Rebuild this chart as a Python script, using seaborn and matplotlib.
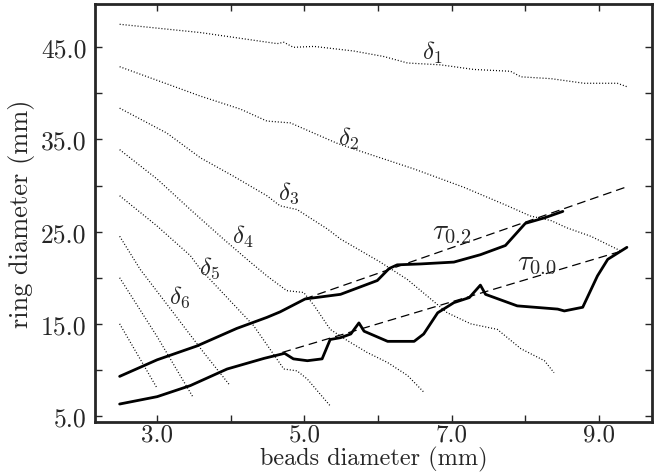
import numpy as np
import pandas as pd
import matplotlib
matplotlib.use("Agg")
import matplotlib.pyplot as plt
import seaborn as sns
from matplotlib.ticker import FixedLocator

# delta curves (dotted): bead diameter vs ring diameter
d1_x = [2.49, 3.59, 4.63, 4.72, 4.85, 5.13, 5.67, 6.08, 6.40, 6.85, 7.30, 7.80, 7.94, 8.35, 8.80, 9.25, 9.39]
d1_y = [47.5, 46.6, 45.4, 45.55, 45.0, 45.1, 44.6, 44.0, 43.3, 43.1, 42.6, 42.4, 41.8, 41.6, 41.1, 41.1, 40.7]
d2_x = [2.49, 3.04, 3.59, 4.13, 4.49, 4.81, 5.44, 5.81, 6.49, 7.17, 7.76, 8.07, 8.35, 8.57, 8.89, 9.30]
d2_y = [42.9, 41.3, 39.7, 38.3, 37.0, 36.8, 34.6, 33.6, 31.8, 29.8, 27.8, 26.7, 26.2, 25.4, 24.5, 22.9]
d3_x = [2.49, 3.13, 3.59, 4.04, 4.49, 4.67, 4.90, 5.31, 5.49, 6.03, 6.40, 6.67, 6.94, 7.26, 7.62, 7.94, 8.26, 8.39]
d3_y = [38.4, 35.7, 33.0, 31.0, 28.9, 27.8, 27.4, 25.3, 24.2, 21.7, 19.8, 18.0, 16.2, 15.0, 14.4, 12.3, 11.0, 9.7]
d4_x = [2.49, 3.00, 3.45, 3.90, 4.22, 4.49, 4.76, 4.99, 5.13, 5.35, 5.58, 5.85, 6.13, 6.40, 6.62]
d4_y = [33.9, 30.7, 27.4, 24.2, 22.0, 20.2, 18.6, 18.4, 17.0, 14.4, 13.2, 11.9, 10.8, 9.4, 7.6]
d5_x = [2.49, 3.00, 3.45, 3.59, 4.31, 4.72, 4.90, 5.04, 5.35]
d5_y = [28.9, 25.6, 22.4, 20.9, 14.8, 10.1, 9.9, 9.0, 6.1]
d6_x = [2.49, 2.77, 3.22, 3.63, 3.99]
d6_y = [24.5, 20.9, 16.2, 11.9, 8.3]
d7_x = [2.49, 3.00, 3.49]
d7_y = [20.0, 13.6, 7.0]
d8_x = [2.49, 3.00]
d8_y = [15.0, 8.0]

# tau curves (solid) and their linear fits (dashed)
t02_x = [2.49, 3.00, 3.54, 4.08, 4.49, 4.67, 5.01, 5.49, 5.99, 6.15, 6.26, 6.58, 7.03, 7.39, 7.73, 8.00, 8.26, 8.51]
t02_y = [9.3, 11.1, 12.6, 14.5, 15.7, 16.3, 17.7, 18.2, 19.7, 21.0, 21.4, 21.5, 21.7, 22.5, 23.5, 25.9, 26.5, 27.2]
t00_x = [2.49, 3.00, 3.45, 3.95, 4.45, 4.73, 4.85, 5.04, 5.24, 5.35, 5.49, 5.63, 5.74, 5.81, 6.13, 6.49, 6.62,
         6.81, 7.03, 7.24, 7.39, 7.46, 7.89, 8.44, 8.53, 8.78, 8.98, 9.12, 9.38]
t00_y = [6.3, 7.1, 8.3, 10.1, 11.25, 11.8, 11.2, 11.0, 11.2, 13.3, 13.5, 13.9, 15.1, 14.2, 13.1, 13.1, 13.9,
         16.2, 17.3, 17.85, 19.2, 18.2, 16.95, 16.6, 16.4, 16.8, 20.2, 22.0, 23.3]
fit02_x = [5.00, 9.39]
fit02_y = [17.7, 29.9]
fit00_x = [4.70, 9.35]
fit00_y = [11.9, 23.0]

delta_labels = [r'$\delta_1$', r'$\delta_2$', r'$\delta_3$', r'$\delta_4$', r'$\delta_5$', r'$\delta_6$']
delta_lx = [6.74, 5.60, 4.78, 4.16, 3.71, 3.30]
delta_ly = [44.5, 35.2, 29.3, 24.5, 21.1, 18.0]
tau_labels = [r'$\tau_{0.2}$', r'$\tau_{0.0}$']
tau_lx = [7.00, 8.16]
tau_ly = [25.0, 21.6]

xticks_major = [3, 5, 7, 9]
xticks_minor = [4, 6, 8]
yticks_major = [5, 15, 25, 35, 45]
yticks_minor = [10, 20, 30, 40]

sns.set_style("ticks")
plt.rcParams['font.family'] = ['cmr10', 'DejaVu Serif']
plt.rcParams['mathtext.fontset'] = 'cm'
plt.rcParams['axes.formatter.use_mathtext'] = True

fig = plt.figure(figsize=(6.67, 4.77), dpi=100)
ax = fig.add_axes([0.1424, 0.1132, 0.835, 0.8763])

dotted = (0, (0.8, 1.6))
for xs, ys in [(d1_x, d1_y), (d2_x, d2_y), (d3_x, d3_y), (d4_x, d4_y),
               (d5_x, d5_y), (d6_x, d6_y), (d7_x, d7_y), (d8_x, d8_y)]:
    df = pd.DataFrame({'bead': xs, 'ring': ys})
    sns.lineplot(data=df, x='bead', y='ring', ax=ax, sort=False, estimator=None,
                 color='k', lw=0.9, linestyle=dotted)

for xs, ys in [(fit02_x, fit02_y), (fit00_x, fit00_y)]:
    df = pd.DataFrame({'bead': xs, 'ring': ys})
    sns.lineplot(data=df, x='bead', y='ring', ax=ax, sort=False, estimator=None,
                 color='k', lw=0.9, linestyle=(0, (7, 4)))

for xs, ys in [(t02_x, t02_y), (t00_x, t00_y)]:
    df = pd.DataFrame({'bead': xs, 'ring': ys})
    sns.lineplot(data=df, x='bead', y='ring', ax=ax, sort=False, estimator=None,
                 color='k', lw=2.0)

for lab, lx, ly in zip(delta_labels, delta_lx, delta_ly):
    ax.text(lx, ly, lab, fontsize=18, ha='center', va='center')
for lab, lx, ly in zip(tau_labels, tau_lx, tau_ly):
    ax.text(lx, ly, lab, fontsize=21, ha='center', va='center')

ax.set_xlim(2.155, 9.72)
ax.set_ylim(4.35, 49.7)

ax.xaxis.set_major_locator(FixedLocator(xticks_major))
ax.xaxis.set_minor_locator(FixedLocator(xticks_minor))
ax.yaxis.set_major_locator(FixedLocator(yticks_major))
ax.yaxis.set_minor_locator(FixedLocator(yticks_minor))
ax.set_xticklabels([f'{v:.1f}' for v in xticks_major])
ax.set_yticklabels([f'{v:.1f}' for v in yticks_major])

ax.tick_params(which='both', direction='in', top=True, right=True, length=5, width=1,
               labelsize=18.5, pad=6)
ax.tick_params(axis='x', labelsize=18, pad=1)
for s in ax.spines.values():
    s.set_linewidth(2.0)
    s.set_visible(True)

ax.set_xlabel('beads diameter (mm)', fontsize=17.5, labelpad=0.5)
ax.set_ylabel('ring diameter (mm)', fontsize=19, labelpad=4)

fig.savefig('out.png', dpi=100)
